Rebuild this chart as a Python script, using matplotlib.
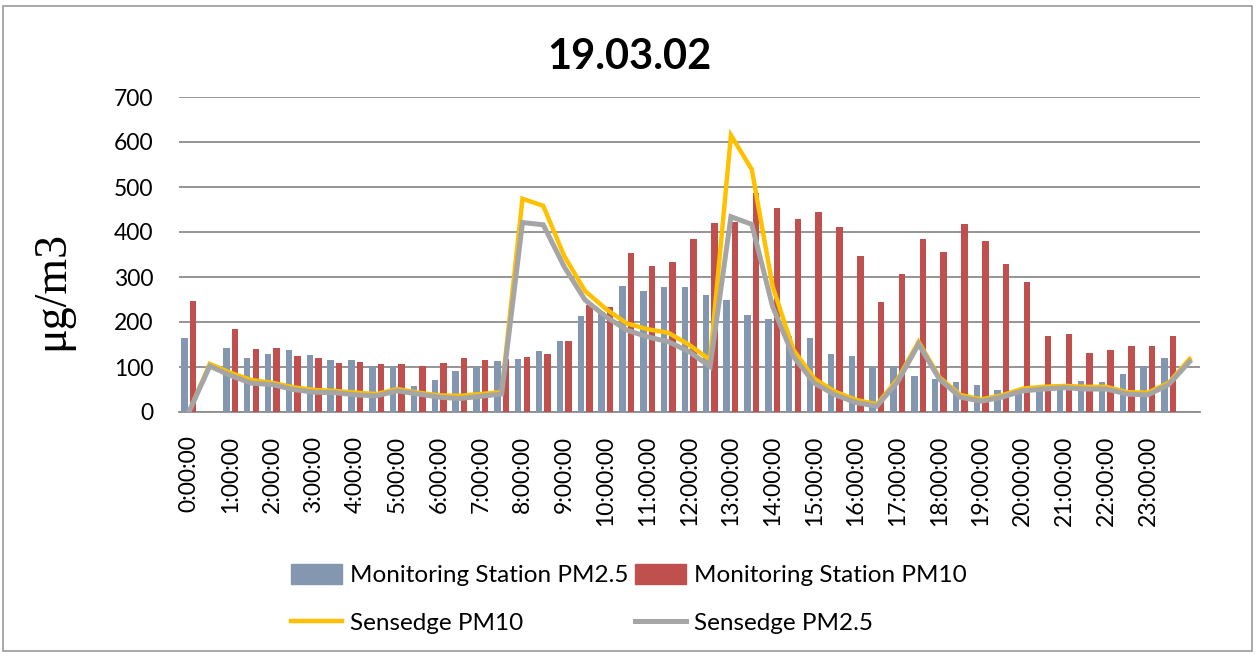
import numpy as np
import matplotlib
matplotlib.use("Agg")
import matplotlib.pyplot as plt
from matplotlib.patches import Rectangle, Patch
from matplotlib.lines import Line2D

# ---- data (49 half-hour categories, 0:00 .. 24:00) ----
nan = np.nan
station_pm25 = [165, nan, 143, 121, 130, 138, 126, 115, 115, 102, 102, 58, 71, 92, 101, 113,
                117, 135, 158, 214, 223, 281, 268, 278, 278, 259, 248, 215, 207, 170, 165, 128,
                124, 100, 101, 81, 74, 67, 61, 49, 48, 50, 55, 70, 67, 85, 103, 121, nan]
station_pm10 = [246, nan, 184, 140, 143, 124, 119, 109, 111, 107, 106, 102, 109, 119, 115, 117,
                122, 128, 158, 238, 234, 353, 325, 334, 384, 419, 423, 487, 453, 428, 444, 411,
                347, 244, 307, 384, 356, 417, 379, 330, 288, 168, 174, 131, 138, 146, 147, 170, nan]
sensedge_pm10 = [0, 107, 87, 71, 65, 55, 49, 47, 43, 40, 51, 43, 37, 36, 40, 44,
                 474, 458, 347, 269, 229, 197, 184, 176, 149, 116, 615, 539, 279, 138, 74, 45,
                 27, 17, 73, 156, 77, 38, 28, 37, 52, 56, 58, 56, 56, 44, 43, 65, 118]
sensedge_pm25 = [0, 102, 81, 64, 61, 50, 44, 43, 38, 36, 47, 40, 33, 30, 35, 40,
                 421, 416, 323, 249, 212, 182, 167, 156, 134, 101, 434, 417, 234, 123, 64, 38,
                 21, 13, 67, 151, 73, 33, 24, 33, 47, 51, 54, 51, 51, 40, 38, 61, 112]
tick_labels = [f"{h}:00:00" for h in range(24)]
title = "19.03.02"
ylabel = "\u03bcg/m3"

# ---- styling ----
C_BLUE = "#8497B0"
C_RED = "#C0504D"
C_YEL = "#FFC000"
C_GRAY = "#A5A5A5"
GRID = "#8C8C8C"
FONT = ["Lato", "DejaVu Sans"]

W, H = 1259, 657
fig = plt.figure(figsize=(W / 100, H / 100), dpi=100)
fig.patch.set_facecolor("white")

# chart border
fig.add_artist(Rectangle((3 / W, 1 - 651 / H), (1252 - 3) / W, (651 - 6) / H,
                         transform=fig.transFigure, fill=False, edgecolor="#9A9A9A", lw=1.2))

left, right, top, bottom = 178.5, 1200, 97, 412
ax = fig.add_axes([left / W, 1 - bottom / H, (right - left) / W, (bottom - top) / H])

n = len(sensedge_pm10)
x = np.arange(n)
bw = 0.31
ax.bar(x - 0.205, station_pm25, width=bw, color=C_BLUE, zorder=2)
ax.bar(x + 0.205, station_pm10, width=bw, color=C_RED, zorder=2)
ax.plot(x, sensedge_pm10, color=C_YEL, lw=3.2, zorder=3, solid_joinstyle="miter")
ax.plot(x, sensedge_pm25, color=C_GRAY, lw=3.6, zorder=4, solid_joinstyle="miter")

ax.set_xlim(-0.5, n - 0.5)
ax.set_ylim(0, 700)
ax.set_yticks(range(0, 701, 100))
ax.yaxis.grid(True, color=GRID, lw=1.3, zorder=0)
ax.set_axisbelow(True)
for s in ["left", "right", "top"]:
    ax.spines[s].set_visible(False)
ax.spines["bottom"].set_color(GRID)
ax.spines["bottom"].set_linewidth(1.3)
ax.spines["bottom"].set_zorder(1)

ax.set_xticks(x[0:48:2])
ax.set_xticklabels(tick_labels, rotation=90, family=FONT, fontsize=16.5, va="top")
ax.tick_params(axis="x", length=0, pad=17)
ax.tick_params(axis="y", length=0, pad=18)
for lab in ax.get_yticklabels():
    lab.set_family(FONT)
    lab.set_fontsize(16.5)

fig.text(629 / W, 1 - 57 / H, title, ha="center", va="center",
         family=FONT, fontsize=30, fontweight="bold")
fig.text(52 / W, 1 - 291 / H, ylabel, ha="center", va="center", rotation=90,
         family=["Liberation Serif", "DejaVu Serif"], fontsize=33)

handles = [Patch(color=C_BLUE), Line2D([], [], color=C_YEL, lw=3.2),
           Patch(color=C_RED), Line2D([], [], color=C_GRAY, lw=3.6)]
labels = ["Monitoring Station PM2.5", "Sensedge PM10",
          "Monitoring Station PM10", "Sensedge PM2.5"]
leg = fig.legend(handles, labels, ncol=2, loc="center",
                 bbox_to_anchor=(629 / W, 1 - 599 / H), frameon=False,
                 prop={"family": FONT, "size": 17.5}, handlelength=2.1, handleheight=0.85,
                 handletextpad=0.33, columnspacing=0.25, labelspacing=1.05,
                 borderpad=0.0)

fig.savefig("out.png", dpi=100, facecolor="white")
